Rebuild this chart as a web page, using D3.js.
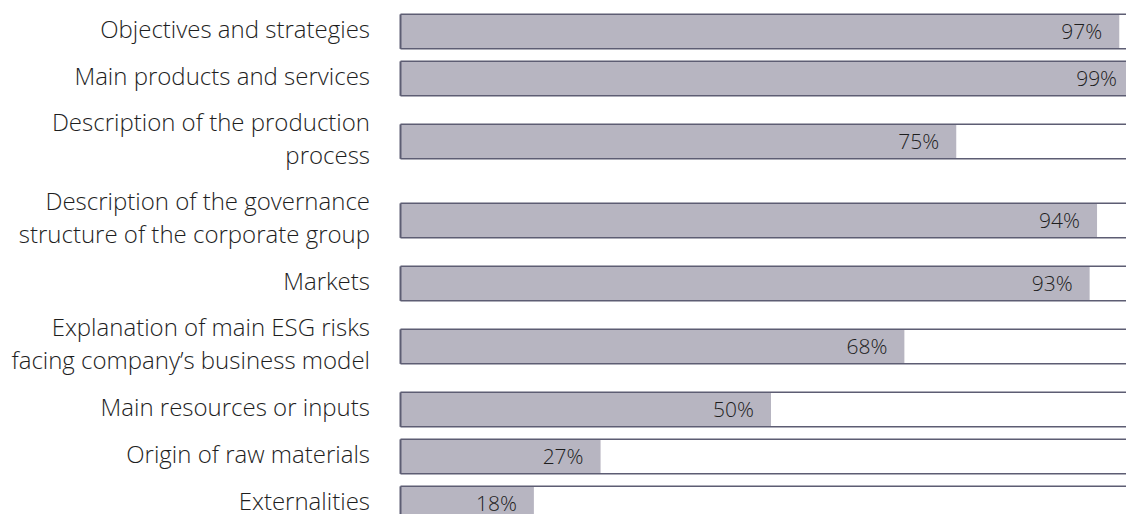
<!DOCTYPE html>
<html>
<head>
<meta charset="utf-8">
<script src="https://cdn.jsdelivr.net/npm/d3@7"></script>
<style>
  html, body { margin: 0; padding: 0; background: #ffffff; }
  svg { display: block; }
  text { font-family: "Open Sans", "Noto Sans", sans-serif; font-weight: 300; fill: #1e1e1e; }
</style>
</head>
<body>
<div id="chart"></div>
<script>
// Share of companies disclosing each business-model element
const categories = [
  ["Objectives and strategies"],
  ["Main products and services"],
  ["Description of the production", "process"],
  ["Description of the governance", "structure of the corporate group"],
  ["Markets"],
  ["Explanation of main ESG risks", "facing company\u2019s business model"],
  ["Main resources or inputs"],
  ["Origin of raw materials"],
  ["Externalities"]
];
const values = [97, 99, 75, 94, 93, 68, 50, 27, 18];

const width = 1126, height = 514;
const barLeft = 400.5;
const labelRight = 370;
const barH = 34.5;
const fill = "#b7b5c1";
const stroke = "#5d5d73";

// Each row takes half-space depending on how many lines its label has
const halfSpace = n => (n > 1 ? 39.5 : 23.5);
const offsets = [];
let acc = 0;
categories.forEach((lines, i) => {
  if (i > 0) acc += halfSpace(categories[i - 1].length) + halfSpace(lines.length);
  offsets.push(acc);
});

const x = d3.scaleLinear().domain([0, 100]).range([barLeft, barLeft + 741]);
const y = d3.scaleLinear().domain([0, 1]).range([31.6, 32.6]); // row centre, in px units

const svg = d3.select("#chart").append("svg")
  .attr("width", width).attr("height", height);

const rows = svg.selectAll("g.row")
  .data(categories.map((lines, i) => ({ lines, value: values[i], cy: y(offsets[i]) })))
  .join("g").attr("class", "row");

rows.append("rect")
  .attr("x", barLeft)
  .attr("y", d => d.cy - barH / 2)
  .attr("width", d => x(d.value) - barLeft)
  .attr("height", barH)
  .attr("fill", fill);

// frame lines: top and bottom run the full width, plus the left edge
rows.append("line")
  .attr("x1", barLeft).attr("x2", width)
  .attr("y1", d => d.cy - barH / 2).attr("y2", d => d.cy - barH / 2)
  .attr("stroke", stroke).attr("stroke-width", 1.5);
rows.append("line")
  .attr("x1", barLeft).attr("x2", width)
  .attr("y1", d => d.cy + barH / 2).attr("y2", d => d.cy + barH / 2)
  .attr("stroke", stroke).attr("stroke-width", 1.5);
rows.append("line")
  .attr("x1", barLeft).attr("x2", barLeft)
  .attr("y1", d => d.cy - barH / 2).attr("y2", d => d.cy + barH / 2)
  .attr("stroke", stroke).attr("stroke-width", 2);

// value labels inside bar end
rows.append("text")
  .attr("x", d => x(d.value) - 17)
  .attr("y", d => d.cy + 7.2)
  .attr("text-anchor", "end")
  .attr("font-size", 21)
  .text(d => d.value + "%");

// category labels, right-aligned, vertically centred on the bar
const lineH = 33.4;
rows.append("text")
  .attr("text-anchor", "end")
  .attr("font-size", 24)
  .each(function (d) {
    const t = d3.select(this);
    const n = d.lines.length;
    d.lines.forEach((s, k) => {
      t.append("tspan")
        .attr("x", labelRight)
        .attr("y", d.cy + 6 + (k - (n - 1) / 2) * lineH)
        .text(s);
    });
  });
</script>
</body>
</html>
